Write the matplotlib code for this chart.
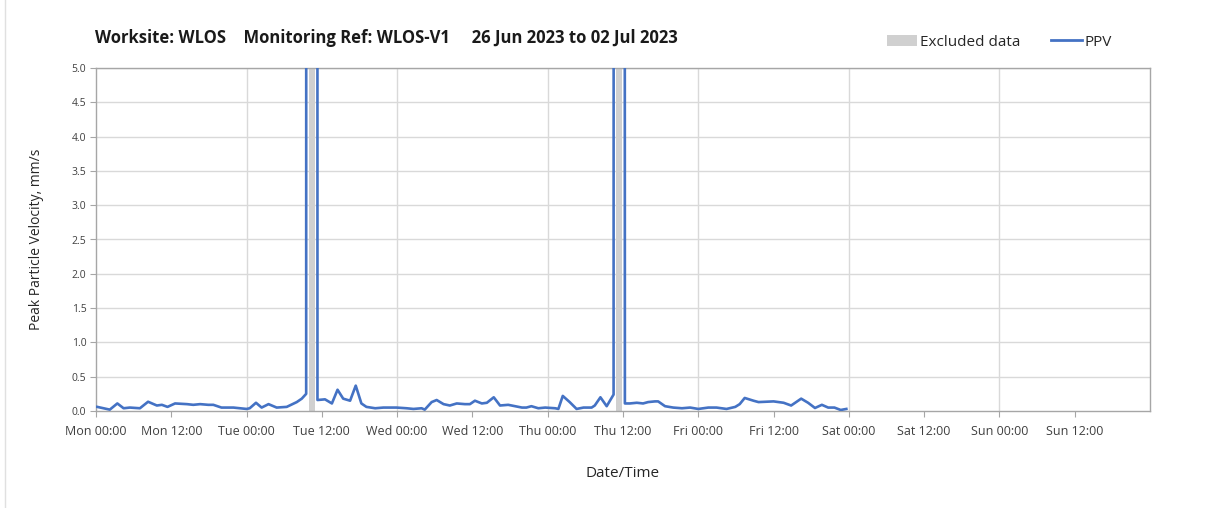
import numpy as np
import pandas as pd
import matplotlib
matplotlib.use("Agg")
import matplotlib.pyplot as plt
import matplotlib.dates as mdates
from matplotlib.patches import Patch
from matplotlib.lines import Line2D

plt.rcParams['font.family'] = ['Open Sans', 'DejaVu Sans']

# ---- data (hours since Mon 26 Jun 2023 00:00) ----
start = pd.Timestamp("2023-06-26 00:00")
hours = [0.2, 2.2, 3.4, 4.4, 5.4, 7.0, 8.3, 9.7, 10.5, 11.4, 12.6, 14.5, 15.5, 16.6, 17.9,
         18.7, 20.0, 21.9, 24.0, 24.5, 25.5, 26.4, 27.5, 28.8, 30.4, 32.0, 32.8, 33.5, 33.6,
         34.0,
         35.25, 35.3, 36.5, 37.6, 38.5, 39.4, 40.5, 41.4, 42.3, 43.1, 44.5, 45.8, 47.9, 49.5,
         50.6, 51.9, 52.4, 53.5, 54.3, 55.4, 56.4, 57.5, 58.8, 59.6, 60.4, 61.5, 62.3, 63.4,
         64.4, 65.7, 66.8, 67.9, 68.6, 69.4, 70.5, 71.6, 73.2, 73.7, 74.4, 75.5, 76.6, 77.7,
         79.0, 79.5, 80.4, 81.4, 82.5, 82.6,
         83.0,
         84.15, 84.3, 85.1, 86.2, 87.2, 88.0, 89.1, 89.6, 90.7, 92.0, 93.4, 94.7, 96.0, 97.6,
         98.9, 100.5, 101.9, 102.6, 103.4, 104.8, 105.6, 108.0, 109.6, 110.8, 112.4, 113.5,
         114.6, 115.7, 116.7, 117.7, 118.7, 119.6]
ppv = [0.06, 0.02, 0.11, 0.04, 0.05, 0.04, 0.135, 0.08, 0.09, 0.06, 0.11, 0.10, 0.09, 0.10, 0.09,
       0.09, 0.05, 0.05, 0.03, 0.04, 0.12, 0.05, 0.10, 0.05, 0.06, 0.13, 0.18, 0.25, 60.0,
       np.nan,
       60.0, 0.16, 0.17, 0.11, 0.31, 0.18, 0.15, 0.37, 0.11, 0.06, 0.04, 0.05, 0.05, 0.04,
       0.03, 0.04, 0.02, 0.13, 0.16, 0.10, 0.08, 0.11, 0.10, 0.10, 0.15, 0.11, 0.12, 0.20,
       0.08, 0.09, 0.07, 0.05, 0.05, 0.07, 0.04, 0.05, 0.04, 0.03, 0.22, 0.13, 0.03, 0.05,
       0.05, 0.08, 0.20, 0.07, 0.24, 60.0,
       np.nan,
       60.0, 0.11, 0.11, 0.12, 0.11, 0.13, 0.14, 0.14, 0.07, 0.05, 0.04, 0.05, 0.03, 0.05,
       0.05, 0.03, 0.06, 0.10, 0.19, 0.15, 0.13, 0.14, 0.12, 0.08, 0.18, 0.12,
       0.044, 0.09, 0.05, 0.05, 0.015, 0.03]
excluded_start_h = [34.0, 82.9]
excluded_end_h = [34.9, 83.9]

title = "Worksite: WLOS    Monitoring Ref: WLOS-V1     26 Jun 2023 to 02 Jul 2023"
xlabel = "Date/Time"
ylabel = "Peak Particle Velocity, mm/s"

times = start + pd.to_timedelta(hours, unit="h")

fig = plt.figure(figsize=(12.08, 5.08), dpi=100)
ax = fig.add_axes([96/1208, 1-411/508, (1150-96)/1208, (411-68)/508])

for s, e in zip(excluded_start_h, excluded_end_h):
    ax.axvspan(start + pd.Timedelta(hours=s), start + pd.Timedelta(hours=e),
               color="#d0d0d0", lw=0, zorder=1)

ax.plot(times, ppv, color="#4472C4", lw=1.9, zorder=3, solid_joinstyle="round")

ax.set_ylim(0, 5.0)
yt = np.arange(0, 5.01, 0.5)
ax.set_yticks(yt)
ax.set_yticklabels([f"{v:.1f}" for v in yt], fontsize=7.5, color="#404040")
ax.set_xlim(start, start + pd.Timedelta(days=7))
ticks = [start + pd.Timedelta(hours=12*i) for i in range(14)]
ax.set_xticks(ticks)
ax.set_xticklabels([t.strftime("%a %H:%M") for t in ticks], fontsize=9, color="#404040")

ax.grid(False)
for v in yt[1:]:
    ax.axhline(v, color="#d9d9d9", lw=1.0, zorder=0)
for d in range(1, 7):
    ax.axvline(start + pd.Timedelta(days=d), color="#d9d9d9", lw=1.0, zorder=0)

for sp in ax.spines.values():
    sp.set_color("#a6a6a6")
    sp.set_linewidth(1.0)
ax.tick_params(axis="both", direction="out", length=4, color="#a6a6a6")
ax.tick_params(axis="x", pad=6)
ax.tick_params(axis="y", pad=3)

ax.set_xlabel(xlabel, fontsize=11, color="#262626", labelpad=20)
ax.set_ylabel(ylabel, fontsize=10, color="#262626", labelpad=20)

fig.text(95/1208, 1-38/508, title, fontsize=12, fontweight="bold", va="center", ha="left",
         color="#1a1a1a")

handles = [Patch(facecolor="#d0d0d0", edgecolor="none", label="Excluded data"),
           Line2D([0], [0], color="#4472C4", lw=2.0, label="PPV")]
fig.legend(handles=handles, loc="center left", bbox_to_anchor=(873/1208, 1-42/508),
           ncol=2, frameon=False, fontsize=11, handlelength=2.0, handletextpad=0.2,
           columnspacing=2.0, labelcolor="#262626")

fig.add_artist(Line2D([5/1208, 5/1208], [0, 1], transform=fig.transFigure,
                      color="#e0e0e0", lw=1.0))

fig.savefig("out.png", dpi=100, facecolor="white")
